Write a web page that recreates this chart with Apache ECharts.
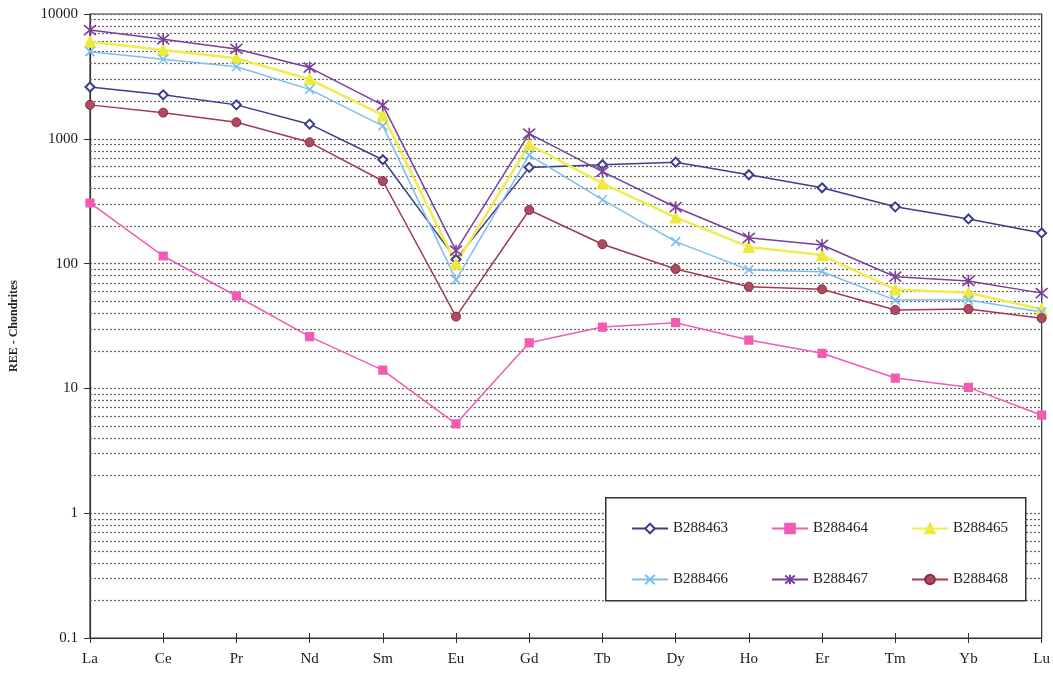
<!DOCTYPE html>
<html>
<head>
<meta charset="utf-8">
<script src="https://cdn.jsdelivr.net/npm/echarts@6/dist/echarts.min.js"></script>
<style>html,body{margin:0;padding:0;background:#fff}#c{width:1053px;height:675px}</style>
</head>
<body>
<div id="c"></div>
<script>
var categories = ['La','Ce','Pr','Nd','Sm','Eu','Gd','Tb','Dy','Ho','Er','Tm','Yb','Lu'];
var B288463 = [2600, 2250, 1870, 1310, 680, 108, 590, 620, 650, 515, 405, 285, 228, 176];
var B288464 = [306, 115, 55, 26, 14, 5.2, 23.2, 31, 33.6, 24.4, 19.1, 12.1, 10.2, 6.1];
var B288465 = [6000, 5150, 4420, 3000, 1550, 100, 900, 440, 235, 136, 117, 62, 58.5, 43];
var B288466 = [4990, 4330, 3780, 2490, 1270, 74, 740, 325, 150, 89, 86, 51, 51, 41];
var B288467 = [7440, 6270, 5250, 3720, 1860, 127, 1100, 545, 283, 161, 141, 78.5, 72.6, 58];
var B288468 = [1870, 1620, 1355, 937, 459, 37.6, 269, 143, 90.5, 65.3, 62.2, 42.5, 43.3, 36.5];
var yTickLabels = ['0.1','1','10','100','1000','10000'];

var serif = "'Liberation Serif','Times New Roman',serif";

// minor log gridlines (2..9 in each decade)
var minorLines = [];
[0.1, 1, 10, 100, 1000].forEach(function (d) {
  for (var k = 2; k <= 9; k++) minorLines.push({ yAxis: +(d * k).toPrecision(3) });
});

function ser(name, data, color, symbol, size, extra) {
  var s = {
    name: name, type: 'line', data: data, symbol: symbol, symbolSize: size,
    lineStyle: { color: color, width: 1.5 },
    itemStyle: { color: color, borderColor: color, borderWidth: 1.2 },
    z: 5
  };
  for (var k in extra) s[k] = extra[k];
  return s;
}

var chart = echarts.init(document.getElementById('c'));
chart.setOption({
  animation: false,
  backgroundColor: '#fff',
  grid: { left: 89, right: 10, top: 14, bottom: 37, show: true, borderColor: '#333', borderWidth: 1.2, backgroundColor: 'transparent' },
  legend: [
    { data: ['B288463','B288464','B288465'], left: 626, top: 516, itemGap: 43, itemWidth: 36, itemHeight: 12,
      textStyle: { fontFamily: serif, fontSize: 15, color: '#222' }, z: 10 },
    { data: ['B288466','B288467','B288468'], left: 626, top: 567, itemGap: 43, itemWidth: 36, itemHeight: 12,
      textStyle: { fontFamily: serif, fontSize: 15, color: '#222' }, z: 10 }
  ],
  graphic: [{
    type: 'rect', left: 605, top: 497, z: 8,
    shape: { width: 420, height: 103 },
    style: { fill: '#fff', stroke: '#333', lineWidth: 1.5 }
  }],
  xAxis: [{
    type: 'category', data: categories, boundaryGap: false,
    axisLine: { lineStyle: { color: '#333', width: 1.2 } },
    axisTick: { show: true, length: 5, lineStyle: { color: '#333' } },
    axisLabel: { fontFamily: serif, fontSize: 15, color: '#1a1a1a', margin: 14 },
    splitLine: { show: false }
  }, {
    type: 'category', data: categories, boundaryGap: false, position: 'bottom',
    axisLine: { show: false },
    axisTick: { show: true, inside: true, length: 5, lineStyle: { color: '#333' } },
    axisLabel: { show: false }, splitLine: { show: false }
  }],
  yAxis: {
    type: 'log', logBase: 10, min: 0.1, max: 10000,
    name: 'REE - Chondrites', nameLocation: 'middle', nameGap: 70,
    nameTextStyle: { fontFamily: serif, fontSize: 12, fontWeight: 'bold', color: '#222' },
    axisLine: { show: true, lineStyle: { color: '#333', width: 1.2 } },
    axisTick: { show: true, length: 6, lineStyle: { color: '#333' } },
    axisLabel: { fontFamily: serif, fontSize: 15, color: '#1a1a1a', margin: 12,
      formatter: function (v) { var i = Math.round(Math.log10(v)) + 1; return yTickLabels[i] !== undefined ? yTickLabels[i] : v; } },
    splitLine: { show: true, lineStyle: { color: '#666', type: [2, 2], width: 1.2 } }
  },
  series: [
    { type: 'line', data: [], silent: true, z: 1,
      markLine: { silent: true, symbol: 'none', label: { show: false },
        lineStyle: { color: '#666', type: [2, 2], width: 1.2 }, data: minorLines, animation: false } },
    ser('B288463', B288463, '#3c3c8e', 'emptyDiamond', 9, {}),
    ser('B288464', B288464, '#f05cb4', 'rect', 8, {}),
    ser('B288465', B288465, '#eeea3c', 'triangle', 11, { lineStyle: { color: '#f0ec50', width: 2.5 } }),
    ser('B288466', B288466, '#7cbfee', 'path://M0,0L10,10M10,0L0,10', 9, { itemStyle: { color: 'none', borderColor: '#7cbfee', borderWidth: 1.6 } }),
    ser('B288467', B288467, '#7a3f98', 'path://M0,0L10,10M10,0L0,10M5,-1L5,11', 12, { itemStyle: { color: 'none', borderColor: '#7a3f98', borderWidth: 1.6 } }),
    ser('B288468', B288468, '#a03a52', 'circle', 9, { itemStyle: { color: '#b04a60', borderColor: '#8a2a40', borderWidth: 1 } })
  ]
});
</script>
</body>
</html>
